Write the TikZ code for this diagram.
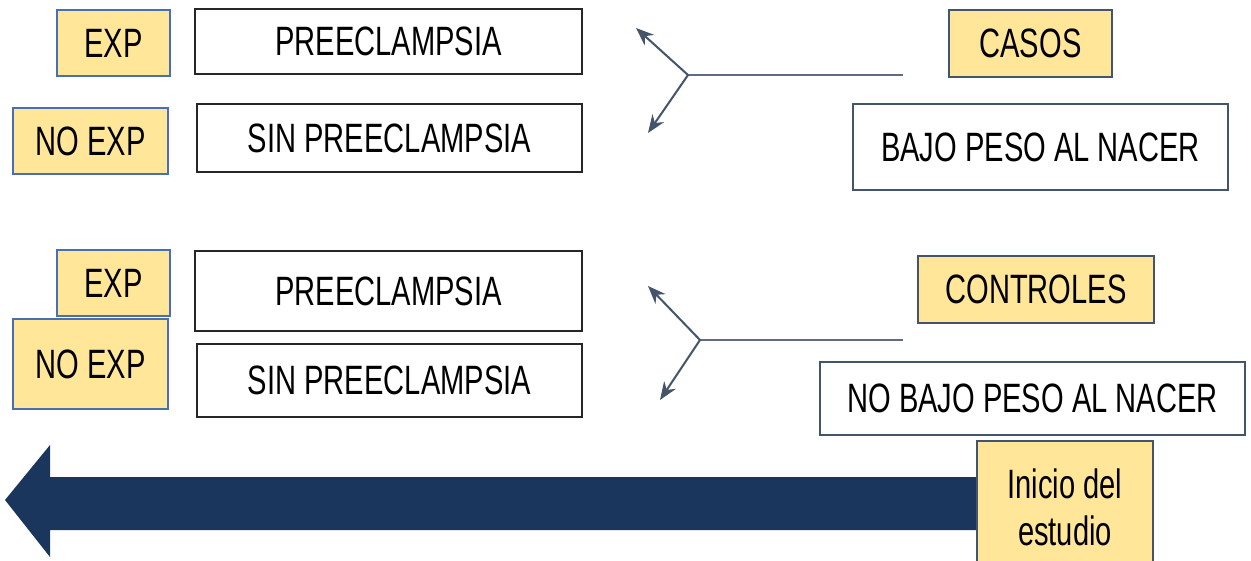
\documentclass[tikz,border=0pt]{standalone}
\usepackage{fontspec}
\setmainfont{Liberation Sans}[FakeStretch=0.71]
\usetikzlibrary{arrows.meta}
\definecolor{ybox}{HTML}{FFE699}
\definecolor{bborder}{HTML}{4A6FB0}
\definecolor{gborder}{HTML}{44546A}
\definecolor{navy}{HTML}{1B365D}
\definecolor{lineg}{HTML}{5F6B80}
\tikzset{
  ylab/.style={draw=bborder, line width=2.5pt, fill=ybox, inner sep=0pt, font=\fontsize{41}{44}\selectfont},
  ylabg/.style={ylab, draw=gborder},
  wbox/.style={draw=black!85, line width=2pt, fill=white, inner sep=0pt, font=\fontsize{41}{44}\selectfont},
  wboxg/.style={wbox, draw=gborder},
  fork/.style={draw=lineg, line width=2pt},
  forkarrow/.style={fork, -{Stealth[length=18pt,width=14pt]}, color=gborder}
}
\begin{document}
\begin{tikzpicture}[x=1pt,y=-1pt]
\useasboundingbox[fill=white] (0,0) rectangle (1251,560);
% left column, top
\node[ylab, minimum width=113pt, minimum height=66pt] (exp1) at (113.5,43) {EXP};
\node[wbox, minimum width=387pt, minimum height=65pt] (pre1) at (388.5,41.5) {PREECLAMPSIA};
\node[ylab, minimum width=155pt, minimum height=66pt] (noexp1) at (90.5,141) {NO EXP};
\node[wbox, minimum width=385pt, minimum height=68pt] (sin1) at (389.5,138) {SIN PREECLAMPSIA};
% left column, bottom
\node[ylab, minimum width=113pt, minimum height=66pt] (exp2) at (113.5,283) {EXP};
\node[wbox, minimum width=387pt, minimum height=80pt] (pre2) at (388.5,291) {PREECLAMPSIA};
\node[ylab, minimum width=155pt, minimum height=90pt] (noexp2) at (90.5,364) {NO EXP};
\node[wbox, minimum width=385pt, minimum height=73pt] (sin2) at (389.5,380.5) {SIN PREECLAMPSIA};
% right column
\node[ylabg, minimum width=163pt, minimum height=67pt] (casos) at (1030.5,43.5) {CASOS};
\node[wboxg, minimum width=375pt, minimum height=86pt] (bajo) at (1040.5,147) {BAJO PESO AL NACER};
\node[ylabg, minimum width=236pt, minimum height=67pt] (controles) at (1036,289.5) {CONTROLES};
\node[wboxg, minimum width=425pt, minimum height=73pt] (nobajo) at (1032.5,398.5) {NO BAJO PESO AL NACER};
% forks
\coordinate (s1) at (903,75);
\coordinate (j1) at (688,75);
\coordinate (u1) at (636,28);
\coordinate (d1) at (648,133);
\draw[fork] (s1) -- (j1);
\draw[forkarrow] (j1) -- (u1);
\draw[forkarrow] (j1) -- (d1);
\coordinate (s2) at (903,340);
\coordinate (j2) at (700,340);
\coordinate (u2) at (648,286);
\coordinate (d2) at (660,400);
\draw[fork] (s2) -- (j2);
\draw[forkarrow] (j2) -- (u2);
\draw[forkarrow] (j2) -- (d2);
% time arrow
\fill[navy] (978,477) -- (50,477) -- (50,445) -- (5,500) -- (50,557) -- (50,530) -- (978,530) -- cycle;
\node[ylab, draw=gborder, line width=2pt, minimum width=176pt, minimum height=132pt, anchor=north, align=center,
  font=\fontsize{41}{47}\selectfont] (inicio) at (1065,440) {Inicio del\\estudio};
\end{tikzpicture}
\end{document}
